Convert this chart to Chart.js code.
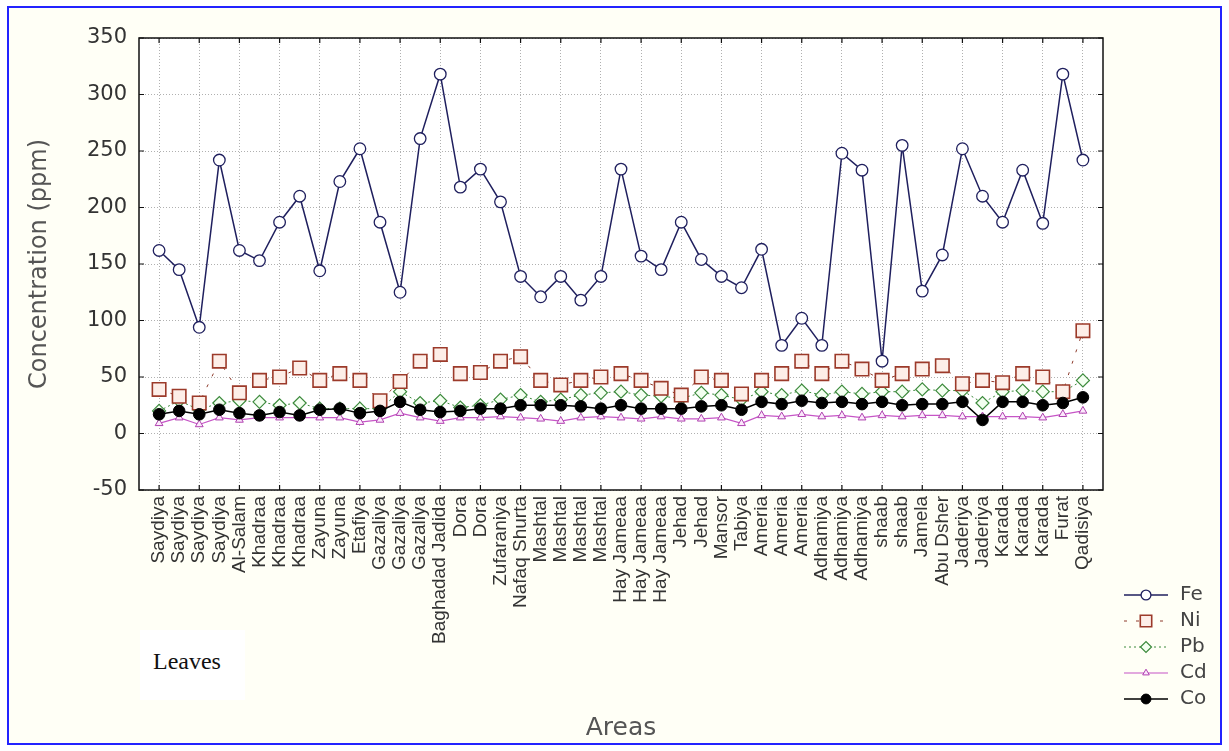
<!DOCTYPE html>
<html>
<head>
<meta charset="utf-8">
<script src="https://cdn.jsdelivr.net/npm/chart.js@4.4.1/dist/chart.umd.min.js"></script>
<style>
  html, body { margin: 0; padding: 0; background: #ffffff; }
  #wrap { position: relative; width: 1229px; height: 751px; overflow: hidden; }
  #border { position: absolute; left: 7px; top: 6px; width: 1211px; height: 735px; border: 2px solid #2323ff; background: #fffff6; }
  #leaves { position: absolute; left: 140px; top: 630px; width: 105px; height: 70px; background: #ffffff; }
  #leavesText { position: absolute; left: 153px; top: 648px; font: 24px "Liberation Serif", "Times New Roman", serif; color: #111; }
  canvas { position: absolute; left: 0; top: 0; }
</style>
</head>
<body>
<div id="wrap">
  <div id="border"></div>
  <div id="leaves"></div>
  <div id="leavesText">Leaves</div>
  <canvas id="myChart" width="1229" height="751"></canvas>
</div>
<script>
// sampling areas (x axis)
const areas = ["Saydiya", "Saydiya", "Saydiya", "Saydiya", "Al-Salam", "Khadraa", "Khadraa", "Khadraa",
  "Zayuna", "Zayuna", "Etafiya", "Gazaliya", "Gazaliya", "Gazaliya", "Baghadad Jadida", "Dora", "Dora",
  "Zufaraniya", "Nafaq Shurta", "Mashtal", "Mashtal", "Mashtal", "Mashtal", "Hay Jameaa", "Hay Jameaa",
  "Hay Jameaa", "Jehad", "Jehad", "Mansor", "Tabiya", "Ameria", "Ameria", "Ameria", "Adhamiya", "Adhamiya",
  "Adhamiya", "shaab", "shaab", "Jamela", "Abu Dsher", "Jaderiya", "Jaderiya", "Karada", "Karada", "Karada",
  "Furat", "Qadisiya"];

// concentrations in ppm
const fe = [162, 145, 94, 242, 162, 153, 187, 210, 144, 223, 252, 187, 125, 261, 318, 218, 234, 205, 139, 121,
  139, 118, 139, 234, 157, 145, 187, 154, 139, 129, 163, 78, 102, 78, 248, 233, 64, 255, 126, 158, 252, 210,
  187, 233, 186, 318, 242];
const ni = [39, 33, 27, 64, 36, 47, 50, 58, 47, 53, 47, 29, 46, 64, 70, 53, 54, 64, 68, 47, 43, 47, 50, 53, 47,
  40, 34, 50, 47, 35, 47, 53, 64, 53, 64, 57, 47, 53, 57, 60, 44, 47, 45, 53, 50, 37, 91];
const pb = [20, 29, 21, 27, 29, 28, 25, 27, 22, 22, 22, 22, 37, 27, 29, 23, 25, 30, 34, 28, 30, 34, 36, 37, 34,
  33, 31, 36, 34, 30, 37, 34, 38, 34, 37, 35, 37, 37, 39, 38, 38, 27, 37, 38, 37, 37, 47];
const cd = [9, 14, 8, 14, 12, 14, 14, 14, 14, 14, 10, 12, 18, 14, 11, 14, 14, 15, 14, 13, 11, 14, 15, 14, 13,
  15, 13, 13, 14, 9, 16, 15, 17, 15, 16, 14, 16, 15, 16, 16, 15, 15, 15, 15, 14, 17, 20];
const co = [17, 20, 17, 21, 18, 16, 19, 16, 21, 22, 18, 20, 28, 21, 19, 20, 22, 22, 25, 25, 25, 24, 22, 25, 22,
  22, 22, 24, 25, 21, 28, 26, 29, 27, 28, 26, 28, 25, 26, 26, 28, 12, 28, 28, 25, 27, 32];

const yTicks = [-50, 0, 50, 100, 150, 200, 250, 300, 350];

function pts(arr) {
  return arr.map((v, i) => ({ x: i, y: v }));
}

const fontFam = '"Liberation Sans", Arial, sans-serif';
const wideFam = '"DejaVu Sans", Verdana, sans-serif';

// white plot area, frame and inward ticks like the original graph
const framePlugin = {
  id: "frame",
  beforeDraw(chart) {
    const a = chart.chartArea, ctx = chart.ctx;
    ctx.save();
    ctx.fillStyle = "#ffffff";
    ctx.fillRect(a.left, a.top, a.right - a.left, a.bottom - a.top);
    ctx.restore();
  },
  afterDraw(chart) {
    const a = chart.chartArea, ctx = chart.ctx;
    const xs = chart.scales.x, ys = chart.scales.y;
    ctx.save();
    ctx.strokeStyle = "#111";
    ctx.lineWidth = 1.5;
    ctx.strokeRect(a.left, a.top, a.right - a.left, a.bottom - a.top);
    ctx.lineWidth = 1.2;
    ctx.beginPath();
    yTicks.forEach(v => {
      const y = ys.getPixelForValue(v);
      ctx.moveTo(a.left, y); ctx.lineTo(a.left + 5, y);
      ctx.moveTo(a.right, y); ctx.lineTo(a.right - 5, y);
    });
    for (let i = 0; i < areas.length; i += 2) {
      const x = xs.getPixelForValue(i);
      ctx.moveTo(x, a.bottom); ctx.lineTo(x, a.bottom - 5);
      ctx.moveTo(x, a.top); ctx.lineTo(x, a.top + 5);
    }
    ctx.stroke();
    ctx.restore();
  }
};

// legend drawn as line + marker samples, bottom right
const legendPlugin = {
  id: "sideLegend",
  afterDraw(chart) {
    const ctx = chart.ctx;
    const order = ["Fe", "Ni", "Pb", "Cd", "Co"];
    order.forEach((name, k) => {
      const ds = chart.data.datasets.find(d => d.label === name);
      const y = 595 + k * 26;
      const x1 = 1124, x2 = 1168, xm = (x1 + x2) / 2;
      ctx.save();
      ctx.strokeStyle = ds.borderColor;
      ctx.lineWidth = ds.borderWidth;
      ctx.setLineDash(ds.borderDash || []);
      ctx.beginPath();
      ctx.moveTo(x1, y); ctx.lineTo(x2, y);
      ctx.stroke();
      ctx.setLineDash([]);
      ctx.fillStyle = ds.pointBackgroundColor;
      ctx.strokeStyle = ds.pointBorderColor;
      ctx.lineWidth = ds.pointBorderWidth;
      Chart.helpers.drawPoint(ctx, {
        pointStyle: ds.pointStyle,
        radius: ds.pointRadius * 0.85,
        rotation: 0,
        borderWidth: ds.pointBorderWidth
      }, xm, y);
      ctx.fillStyle = "#444";
      ctx.font = "20px " + wideFam;
      ctx.textBaseline = "middle";
      ctx.fillText(name, 1180, y);
      ctx.restore();
    });
  }
};

new Chart("myChart", {
  type: "line",
  data: {
    datasets: [
      {
        label: "Fe", data: pts(fe), order: 2,
        borderColor: "#1f1f5e", borderWidth: 1.5,
        pointStyle: "circle", pointRadius: 5.8,
        pointBackgroundColor: "#ffffff", pointBorderColor: "#1f1f5e", pointBorderWidth: 1.3
      },
      {
        label: "Ni", data: pts(ni), order: 3,
        borderColor: "#8e3b2c", borderWidth: 1, borderDash: [3, 9],
        pointStyle: "rect", pointRadius: 9.5,
        pointBackgroundColor: "#fdeee8", pointBorderColor: "#9c3a2a", pointBorderWidth: 1.6
      },
      {
        label: "Pb", data: pts(pb), order: 4,
        borderColor: "#3c8a3c", borderWidth: 1, borderDash: [2, 3],
        pointStyle: "rectRot", pointRadius: 6.5,
        pointBackgroundColor: "#f3fff0", pointBorderColor: "#3c8a3c", pointBorderWidth: 1.2
      },
      {
        label: "Cd", data: pts(cd), order: 5,
        borderColor: "#c655c6", borderWidth: 1.2,
        pointStyle: "triangle", pointRadius: 4.5,
        pointBackgroundColor: "#fbe8fb", pointBorderColor: "#b040b0", pointBorderWidth: 1
      },
      {
        label: "Co", data: pts(co), order: 1,
        borderColor: "#000000", borderWidth: 1.5,
        pointStyle: "circle", pointRadius: 5.8,
        pointBackgroundColor: "#000000", pointBorderColor: "#000000", pointBorderWidth: 1
      }
    ]
  },
  options: {
    responsive: false,
    animation: false,
    layout: { padding: { left: 21, top: 38, right: 126, bottom: 3 } },
    plugins: {
      legend: { display: false },
      tooltip: { enabled: false }
    },
    scales: {
      x: {
        type: "linear", min: -1, max: areas.length,
        afterFit: s => { s.height = 258; },
        afterBuildTicks: s => { s.ticks = areas.map((a, i) => ({ value: i })); },
        ticks: {
          autoSkip: false, maxRotation: 90, minRotation: 90, padding: 6,
          color: "#333", font: { family: fontFam, size: 19 },
          callback: v => areas[v] ?? ""
        },
        grid: {
          drawTicks: false,
          color: c => (c.tick && c.tick.value % 2 === 0) ? "#b0b0b0" : "rgba(0,0,0,0)",
          lineWidth: 1
        },
        border: { display: false, dash: [1, 2] },
        title: {
          display: true, text: "Areas", color: "#555",
          font: { family: wideFam, size: 25 }, padding: { top: 4, bottom: 5 }
        }
      },
      y: {
        min: -50, max: 350,
        afterFit: s => { s.width = 139 - 21; },
        afterBuildTicks: s => { s.ticks = yTicks.map(v => ({ value: v })); },
        ticks: { padding: 12, color: "#333", font: { family: wideFam, size: 21 } },
        grid: { drawTicks: false, color: "#b0b0b0", lineWidth: 1 },
        border: { display: false, dash: [1, 2] },
        title: {
          display: true, text: "Concentration (ppm)", color: "#555",
          font: { family: wideFam, size: 24 }, padding: { top: 4, bottom: 4 }
        }
      }
    }
  },
  plugins: [framePlugin, legendPlugin]
});
</script>
</body>
</html>
